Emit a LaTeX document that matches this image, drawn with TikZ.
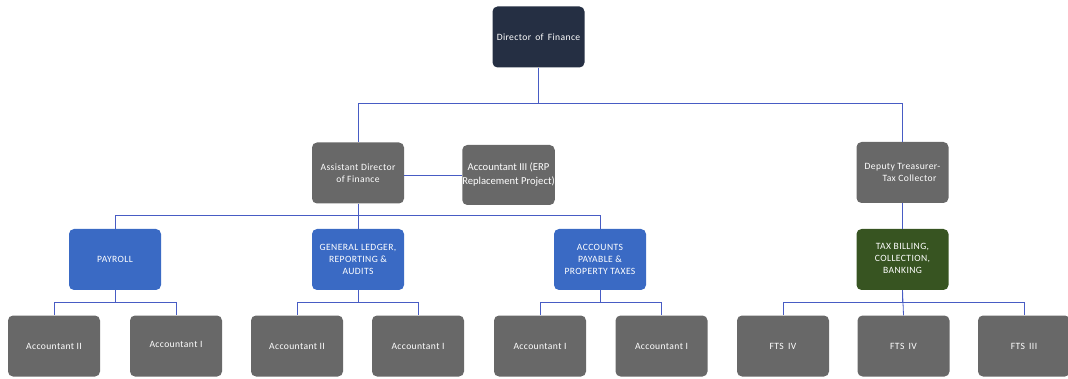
\documentclass[tikz,border=0pt]{standalone}
\usepackage{fontspec}
\setmainfont{Carlito}
\newfontfamily\boxfont[LetterSpace=4]{Carlito}
\definecolor{navybox}{RGB}{37,47,67}
\definecolor{greybox}{RGB}{104,104,104}
\definecolor{bluebox}{RGB}{58,106,196}
\definecolor{greenbox}{RGB}{55,84,33}
\definecolor{linkblue}{RGB}{72,92,196}
\begin{document}
\begin{tikzpicture}[x=1pt,y=-1pt,
  box/.style={rounded corners=5pt, minimum width=92pt, minimum height=61pt,
    inner sep=1pt, text=white, align=center,
    font=\boxfont\fontsize{9.6}{12}\selectfont},
  navy/.style={box, fill=navybox},
  grey/.style={box, fill=greybox},
  blue/.style={box, fill=bluebox},
  green/.style={box, fill=greenbox},
  conn/.style={draw=linkblue, line width=0.8pt}]
\useasboundingbox (0,0) rectangle (1068,379);

% top level
\node[navy] (dir) at (538.5,37) {Director\, of\, Finance};

% second level
\node[grey] (asst) at (358,173) {Assistant Director\\of Finance};
\node[grey, minimum width=91pt, minimum height=60pt, inner sep=0pt,
  font=\rmfamily\fontsize{10.6}{14}\selectfont] (erp) at (508.5,175)
  {Accountant III (ERP\\Replacement Project)};
\node[grey] (dep) at (902.5,172.5) {Deputy Treasurer-\\\hspace*{14pt}Tax Collector};

% divisions
\node[blue] (pay) at (115,259.5) {PAYROLL};
\node[blue] (gl) at (358,259.5) {GENERAL LEDGER,\\REPORTING \&\\AUDITS};
\node[blue] (ap) at (600,259.5) {ACCOUNTS\\PAYABLE \&\\PROPERTY TAXES};
\node[green] (tax) at (902.5,259.5) {\raisebox{5pt}{\begin{tabular}{@{}c@{}}TAX BILLING,\\COLLECTION,\\BANKING\end{tabular}}};

% staff
\node[grey] (p1) at (54,346) {Accountant II};
\node[grey] (p2) at (176,346) {\raisebox{3pt}{Accountant I}};
\node[grey] (g1) at (297,346) {Accountant II};
\node[grey] (g2) at (418,346) {Accountant I};
\node[grey] (a1) at (540,346) {Accountant I};
\node[grey] (a2) at (661.5,346) {Accountant I};
\node[grey] (t1) at (783,346) {FTS\, IV};
\node[grey] (t2) at (903.5,346) {FTS\, IV};
\node[grey] (t3) at (1024,346) {FTS\, III};

% bus lines
\coordinate (busA) at (0,103);
\coordinate (busB) at (0,215);
\coordinate (busC) at (0,302);

% connectors
\draw[conn] (dir.south) -- (dir.south |- busA) -| (asst.north);
\draw[conn] (dir.south |- busA) -| (dep.north);
\draw[conn] (asst.east |- erp.west) -- (erp.west);
\draw[conn] (asst.south) -- (asst.south |- busB) -| (pay.north);
\draw[conn] (asst.south |- busB) -| (ap.north);
\draw[conn] (asst.south) -- (gl.north);
\draw[conn] (dep.south) -- (tax.north);

\draw[conn] (pay.south) -- (pay.south |- busC) -| (p1.north);
\draw[conn] (pay.south |- busC) -| (p2.north);
\draw[conn] (gl.south) -- (gl.south |- busC) -| (g1.north);
\draw[conn] (gl.south |- busC) -| (g2.north);
\draw[conn] (ap.south) -- (ap.south |- busC) -| (a1.north);
\draw[conn] (ap.south |- busC) -| (a2.north);
\draw[conn] (tax.south) -- (tax.south |- busC) -| (t1.north);
\draw[conn] (tax.south |- busC) -| (t3.north);
\draw[conn] (tax.south) -- (t2.north);
\end{tikzpicture}
\end{document}
